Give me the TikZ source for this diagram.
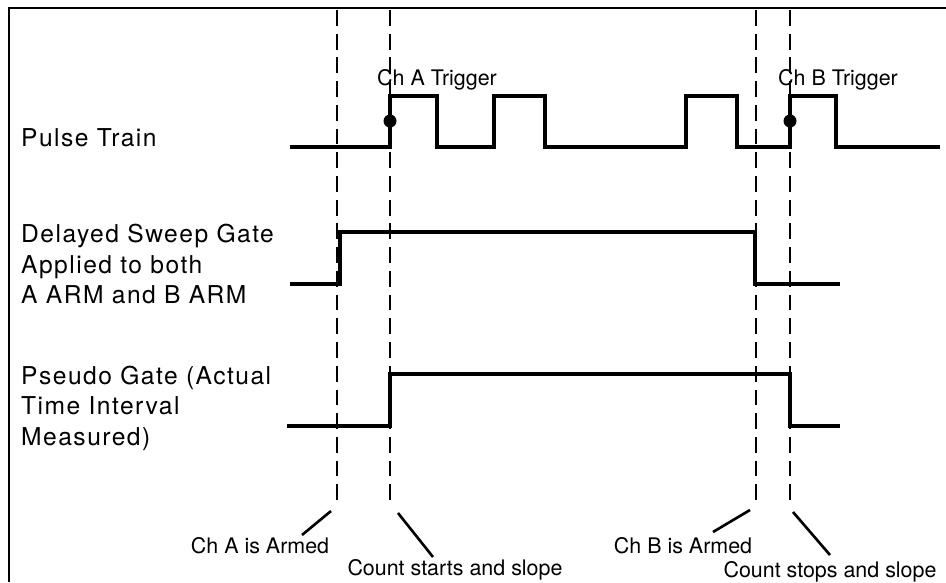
\documentclass[tikz,border=0pt]{standalone}
\usepackage{fontspec}
\setmainfont{TeX Gyre Heros}
\usetikzlibrary{positioning}

\tikzset{
    wave/.style={line width=2.6pt, line join=miter},
    marker/.style={line width=1.6pt, dash pattern=on 9pt off 4.5pt},
    leader/.style={line width=1.5pt},
    sidelabel/.style={anchor=west, align=left, font=\fontsize{14}{17.4}\selectfont\addfontfeature{LetterSpace=6}}
}

\begin{document}
\begin{tikzpicture}[x=0.02cm, y=-0.02cm, every node/.style={font=\fontsize{12.2}{17.6}\selectfont}]
    \useasboundingbox (0,0) rectangle (946,582);

    % Frame
    \draw[line width=1.7pt] (9,582) -- (9,8) -- (946,8);

    % Time markers
    \foreach \n/\x in {armA/337, trigA/390, armB/756, trigB/790} {
        \coordinate (top\n) at (\x,10);
        \coordinate (bot\n) at (\x,505);
        \draw[marker] (top\n) -- (bot\n);
    }

    % Pulse train
    \draw[wave] (290,147)
        foreach \a/\b in {390/437, 494/545, 686/737, 790/836} {
            -- (\a,147) -- (\a,96) -- (\b,96) -- (\b,147)
        } -- (940,147);
    \fill (390,121) circle (0.13cm);
    \fill (790,121) circle (0.13cm);

    % Delayed sweep gate
    \draw[wave] (290,284) -- (340,284) -- (340,232) -- (755,232) -- (755,284) -- (840,284);

    % Pseudo gate
    \draw[wave] (287,426) -- (390,426) -- (390,374) -- (790,374) -- (790,426) -- (840,426);

    % Signal names
    \node[sidelabel] (pulse) at (15,138) {Pulse Train};
    \node[sidelabel] (sweep) at (15,264) {Delayed Sweep Gate\\Applied to both\\A ARM and B ARM};
    \node[sidelabel] (pseudo) at (15,408) {Pseudo Gate (Actual\\Time Interval\\Measured)};

    % Trigger labels
    \node[anchor=base] (trigAlbl) at (437,85) {Ch A Trigger};
    \node[anchor=base] (trigBlbl) at (838,85) {Ch B Trigger};

    % Event labels
    \node[anchor=base] (armAlbl) at (260,553) {Ch A is Armed};
    \node[anchor=base] (armBlbl) at (683,553) {Ch B is Armed};
    \node[anchor=base] (startlbl) at (455,575) {Count starts and slope};
    \node[anchor=base] (stoplbl) at (830,577) {Count stops and slope};

    % Leaders
    \coordinate (fromarmA) at (331,511);
    \coordinate (fromtrigA) at (398,513);
    \coordinate (fromarmB) at (750,510);
    \coordinate (fromtrigB) at (793,512);
    \coordinate (toarmA) at (302,535);
    \coordinate (totrigA) at (433,557);
    \coordinate (toarmB) at (713,532);
    \coordinate (totrigB) at (830,555);
    \foreach \n in {armA, trigA, armB, trigB} {
        \draw[leader] (from\n) -- (to\n);
    }
\end{tikzpicture}
\end{document}
